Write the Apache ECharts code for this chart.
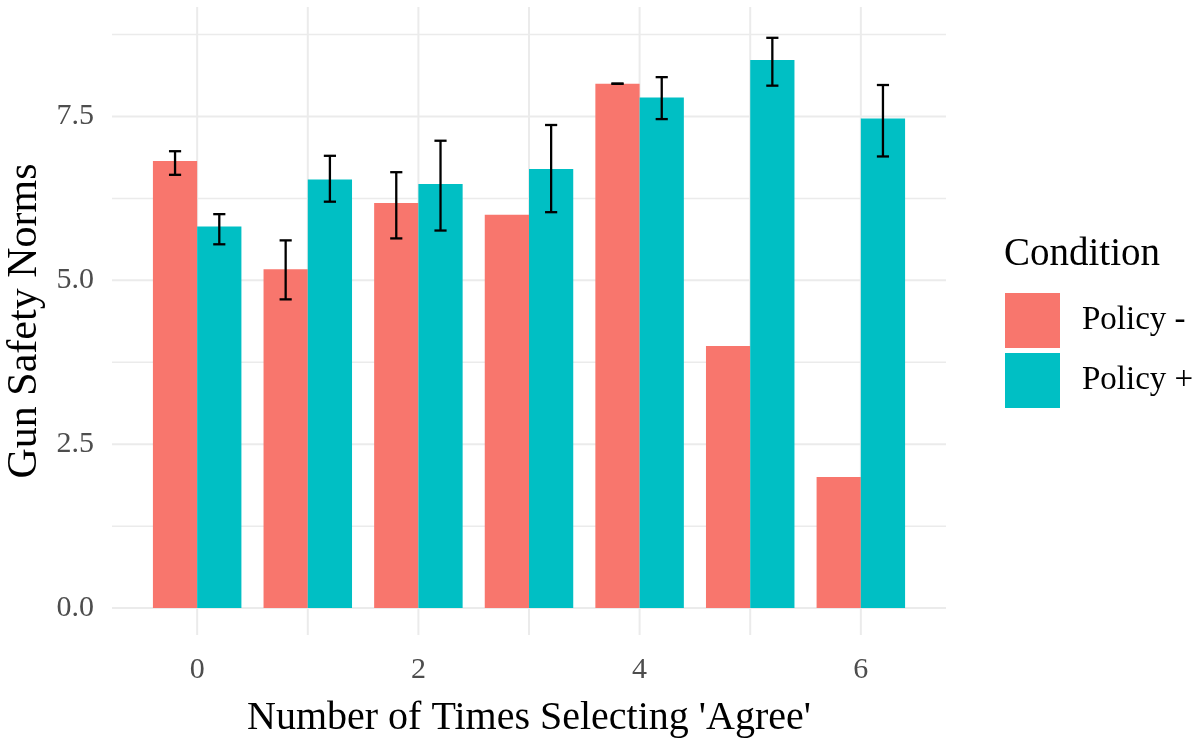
<!DOCTYPE html>
<html>
<head>
<meta charset="utf-8">
<script src="https://cdn.jsdelivr.net/npm/echarts@6/dist/echarts.min.js"></script>
<style>
  html, body { margin: 0; padding: 0; background: #ffffff; }
  #chart { width: 1204px; height: 740px; }
</style>
</head>
<body>
<div id="chart"></div>
<script>
// Number of times a respondent selected 'Agree'
var agreeCounts = [0, 1, 2, 3, 4, 5, 6];

// Mean gun safety norms per condition, with error bar limits (null = no bar)
var policyMinus   = [6.82, 5.17, 6.18, 6.00, 8.00, 4.00, 2.00];
var policyMinusLo = [6.61, 4.71, 5.64, null, 8.00, null, null];
var policyMinusHi = [6.97, 5.61, 6.65, null, 8.00, null, null];

var policyPlus    = [5.82, 6.54, 6.47, 6.70, 7.79, 8.36, 7.47];
var policyPlusLo  = [5.55, 6.20, 5.76, 6.04, 7.46, 7.97, 6.89];
var policyPlusHi  = [6.01, 6.90, 7.13, 7.37, 8.10, 8.70, 7.98];

// Tick values
var xLabelTicks = [0, 2, 4, 6];
var xGridTicks  = [0, 1, 2, 3, 4, 5, 6];
var yMajorTicks = [0, 2.5, 5, 7.5];
var yMinorTicks = [1.25, 3.75, 6.25, 8.75];

var conditionNames = ['Policy -', 'Policy +'];
var conditionColors = ['#F8766D', '#00BFC4'];

var FONT = "'Liberation Serif', 'Times New Roman', serif";
var BAR_W = 0.4;     // width of each dodged bar in x units
var CAP_HALF = 0.055; // half width of error bar caps

function barRows(values) {
  return agreeCounts.map(function (x, i) { return [x, values[i]]; });
}
function errRows(lo, hi) {
  var rows = [];
  agreeCounts.forEach(function (x, i) {
    if (lo[i] !== null && hi[i] !== null) rows.push([x, lo[i], hi[i]]);
  });
  return rows;
}

function makeBarRenderer(offset) {
  return function (params, api) {
    var x = api.value(0), v = api.value(1);
    var p0 = api.coord([x + offset, v]);
    var p1 = api.coord([x + offset + BAR_W, 0]);
    return {
      type: 'rect',
      shape: { x: p0[0], y: p0[1], width: p1[0] - p0[0], height: p1[1] - p0[1] },
      style: { fill: api.visual('color') }
    };
  };
}

function makeErrRenderer(center) {
  return function (params, api) {
    var x = api.value(0) + center, lo = api.value(1), hi = api.value(2);
    var top = api.coord([x, hi]), bot = api.coord([x, lo]);
    var tl = api.coord([x - CAP_HALF, hi]), tr = api.coord([x + CAP_HALF, hi]);
    var bl = api.coord([x - CAP_HALF, lo]), br = api.coord([x + CAP_HALF, lo]);
    var st = { stroke: '#000000', lineWidth: 2.3 };
    return {
      type: 'group',
      children: [
        { type: 'line', shape: { x1: top[0], y1: top[1], x2: bot[0], y2: bot[1] }, style: st },
        { type: 'line', shape: { x1: tl[0], y1: tl[1], x2: tr[0], y2: tr[1] }, style: st },
        { type: 'line', shape: { x1: bl[0], y1: bl[1], x2: br[0], y2: br[1] }, style: st }
      ]
    };
  };
}

function hGridRenderer(width) {
  return function (params, api) {
    var cs = params.coordSys;
    var y = api.coord([0, api.value(0)])[1];
    return {
      type: 'line',
      shape: { x1: cs.x, y1: y, x2: cs.x + cs.width, y2: y },
      style: { stroke: '#EBEBEB', lineWidth: width }
    };
  };
}
function vGridRenderer(width) {
  return function (params, api) {
    var cs = params.coordSys;
    var x = api.coord([api.value(0), 0])[0];
    return {
      type: 'line',
      shape: { x1: x, y1: cs.y, x2: x, y2: cs.y + cs.height },
      style: { stroke: '#EBEBEB', lineWidth: width }
    };
  };
}

var chart = echarts.init(document.getElementById('chart'), null, { renderer: 'canvas' });

var option = {
  backgroundColor: '#ffffff',
  animation: false,
  textStyle: { fontFamily: FONT },
  grid: { left: 112, right: 258, top: 7, bottom: 105, containLabel: false, outerBoundsMode: 'none' },
  xAxis: {
    type: 'value',
    min: -0.77,
    max: 6.77,
    axisLine: { show: false, onZero: false },
    axisTick: { show: false },
    splitLine: { show: false },
    axisLabel: {
      customValues: xLabelTicks,
      fontSize: 30,
      color: '#4D4D4D',
      fontFamily: FONT,
      margin: 20
    },
    name: "Number of Times Selecting 'Agree'",
    nameLocation: 'middle',
    nameGap: 63,
    nameTextStyle: { fontSize: 40, color: '#000000', fontFamily: FONT }
  },
  yAxis: {
    type: 'value',
    min: -0.41,
    max: 9.17,
    axisLine: { show: false, onZero: false },
    axisTick: { show: false },
    splitLine: { show: false },
    axisLabel: {
      customValues: yMajorTicks,
      fontSize: 30,
      color: '#4D4D4D',
      fontFamily: FONT,
      margin: 18,
      formatter: function (v) { return Number(v).toFixed(1); }
    },
    name: 'Gun Safety Norms',
    nameLocation: 'middle',
    nameGap: 61,
    nameTextStyle: { fontSize: 42, color: '#000000', fontFamily: FONT }
  },
  legend: {
    data: conditionNames,
    orient: 'vertical',
    left: 1005,
    top: 293,
    padding: 0,
    icon: 'rect',
    itemWidth: 55,
    itemHeight: 55,
    itemGap: 5,
    textStyle: { fontSize: 33, color: '#000000', fontFamily: FONT, padding: [14, 0, 0, 17] },
    selectedMode: false
  },
  graphic: [{
    type: 'text',
    left: 1004,
    top: 235,
    style: { text: 'Condition', font: '39px ' + FONT, fill: '#000000' }
  }],
  series: [
    { type: 'custom', silent: true, z: 0, renderItem: hGridRenderer(1.5), data: yMinorTicks.map(function (v) { return [v]; }) },
    { type: 'custom', silent: true, z: 0, renderItem: hGridRenderer(2), data: yMajorTicks.map(function (v) { return [v]; }) },
    { type: 'custom', silent: true, z: 0, renderItem: vGridRenderer(2), data: xGridTicks.map(function (v) { return [v]; }) },
    {
      name: conditionNames[0], type: 'custom', z: 2,
      itemStyle: { color: conditionColors[0] },
      renderItem: makeBarRenderer(-BAR_W),
      encode: { x: 0, y: 1 },
      data: barRows(policyMinus)
    },
    {
      name: conditionNames[1], type: 'custom', z: 2,
      itemStyle: { color: conditionColors[1] },
      renderItem: makeBarRenderer(0),
      encode: { x: 0, y: 1 },
      data: barRows(policyPlus)
    },
    {
      type: 'custom', z: 3, silent: true,
      renderItem: makeErrRenderer(-BAR_W / 2),
      encode: { x: 0, y: [1, 2] },
      data: errRows(policyMinusLo, policyMinusHi)
    },
    {
      type: 'custom', z: 3, silent: true,
      renderItem: makeErrRenderer(BAR_W / 2),
      encode: { x: 0, y: [1, 2] },
      data: errRows(policyPlusLo, policyPlusHi)
    }
  ]
};

chart.setOption(option);
</script>
</body>
</html>
